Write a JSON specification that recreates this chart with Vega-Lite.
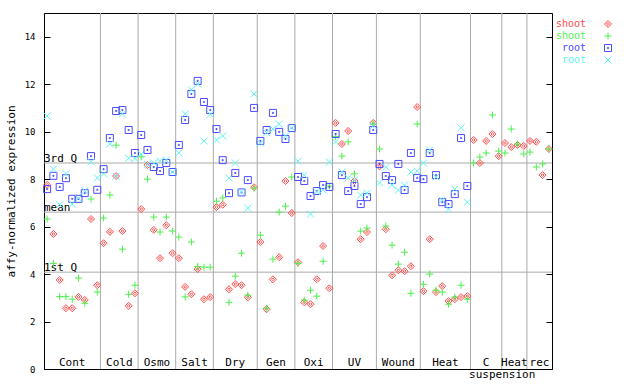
{
"$schema": "https://vega.github.io/schema/vega-lite/v6.json",
"width": 508, "height": 356,
"autosize": {"type": "none"},
"padding": {"left": 44, "top": 13, "right": 88, "bottom": 15},
"background": "white",
"config": {"view": {"stroke": "black", "strokeWidth": 1}, "font": "DejaVu Sans Mono", "axis": {"grid": false, "domainColor": "black", "tickColor": "black"}},
"datasets": {
"expr": [
{"g":"Cont","x":0.5,"shoot_a":7.76,"shoot_b":6.32,"root_a":7.58,"root_b":10.66},
{"g":"Cont","x":1.5,"shoot_a":5.69,"shoot_b":4.45,"root_a":8.14,"root_b":8.42},
{"g":"Cont","x":2.5,"shoot_a":3.75,"shoot_b":3.05,"root_a":7.67,"root_b":6.92},
{"g":"Cont","x":3.5,"shoot_a":2.56,"shoot_b":3.05,"root_a":8.04,"root_b":8.23},
{"g":"Cont","x":4.5,"shoot_a":2.56,"shoot_b":2.94,"root_a":7.17,"root_b":6.95},
{"g":"Cont","x":5.5,"shoot_a":3.04,"shoot_b":3.83,"root_a":7.17,"root_b":7.19},
{"g":"Cont","x":6.5,"shoot_a":2.91,"shoot_b":2.77,"root_a":7.41,"root_b":7.51},
{"g":"Cont","x":7.5,"shoot_a":6.32,"shoot_b":7.16,"root_a":8.97,"root_b":8.73},
{"g":"Cont","x":8.5,"shoot_a":3.53,"shoot_b":3.24,"root_a":7.55,"root_b":8.05},
{"g":"Cold","x":9.5,"shoot_a":5.30,"shoot_b":6.36,"root_a":8.42,"root_b":8.22},
{"g":"Cold","x":10.5,"shoot_a":5.78,"shoot_b":7.33,"root_a":9.73,"root_b":9.48},
{"g":"Cold","x":11.5,"shoot_a":8.13,"shoot_b":9.43,"root_a":10.87,"root_b":8.12},
{"g":"Cold","x":12.5,"shoot_a":5.81,"shoot_b":5.05,"root_a":10.91,"root_b":10.75},
{"g":"Cold","x":13.5,"shoot_a":2.66,"shoot_b":3.15,"root_a":10.07,"root_b":8.88},
{"g":"Cold","x":14.5,"shoot_a":3.19,"shoot_b":3.53,"root_a":9.10,"root_b":8.87},
{"g":"Osmo","x":15.5,"shoot_a":6.74,"shoot_b":8.94,"root_a":9.86,"root_b":9.06},
{"g":"Osmo","x":16.5,"shoot_a":8.59,"shoot_b":8.00,"root_a":9.23,"root_b":8.62},
{"g":"Osmo","x":17.5,"shoot_a":5.86,"shoot_b":6.40,"root_a":8.51,"root_b":8.68},
{"g":"Osmo","x":18.5,"shoot_a":4.67,"shoot_b":5.77,"root_a":8.34,"root_b":8.77},
{"g":"Osmo","x":19.5,"shoot_a":6.06,"shoot_b":6.40,"root_a":8.68,"root_b":8.80},
{"g":"Osmo","x":20.5,"shoot_a":4.88,"shoot_b":5.81,"root_a":8.30,"root_b":8.30},
{"g":"Salt","x":21.5,"shoot_a":4.67,"shoot_b":5.56,"root_a":9.44,"root_b":9.10},
{"g":"Salt","x":22.5,"shoot_a":3.46,"shoot_b":3.04,"root_a":10.49,"root_b":10.75},
{"g":"Salt","x":23.5,"shoot_a":3.15,"shoot_b":5.35,"root_a":11.59,"root_b":11.76},
{"g":"Salt","x":24.5,"shoot_a":4.21,"shoot_b":4.32,"root_a":12.14,"root_b":12.01},
{"g":"Salt","x":25.5,"shoot_a":2.94,"shoot_b":4.29,"root_a":11.25,"root_b":9.61},
{"g":"Salt","x":26.5,"shoot_a":3.03,"shoot_b":4.29,"root_a":10.91,"root_b":10.73},
{"g":"Dry","x":27.5,"shoot_a":6.82,"shoot_b":7.07,"root_a":10.11,"root_b":9.65},
{"g":"Dry","x":28.5,"shoot_a":6.92,"shoot_b":7.21,"root_a":8.80,"root_b":9.82},
{"g":"Dry","x":29.5,"shoot_a":3.36,"shoot_b":2.81,"root_a":7.41,"root_b":8.05},
{"g":"Dry","x":30.5,"shoot_a":3.58,"shoot_b":3.91,"root_a":8.26,"root_b":8.68},
{"g":"Dry","x":31.5,"shoot_a":3.53,"shoot_b":4.88,"root_a":7.44,"root_b":7.46},
{"g":"Dry","x":32.5,"shoot_a":3.02,"shoot_b":3.11,"root_a":7.96,"root_b":6.78},
{"g":"Dry","x":33.5,"shoot_a":7.66,"shoot_b":7.62,"root_a":11.00,"root_b":11.59},
{"g":"Gen","x":34.5,"shoot_a":5.35,"shoot_b":5.64,"root_a":9.61,"root_b":9.52},
{"g":"Gen","x":35.5,"shoot_a":2.52,"shoot_b":2.56,"root_a":10.07,"root_b":9.96},
{"g":"Gen","x":36.5,"shoot_a":3.78,"shoot_b":4.63,"root_a":10.79,"root_b":10.11},
{"g":"Gen","x":37.5,"shoot_a":4.71,"shoot_b":6.61,"root_a":9.99,"root_b":10.32},
{"g":"Gen","x":38.5,"shoot_a":7.92,"shoot_b":6.86,"root_a":9.69,"root_b":9.81},
{"g":"Gen","x":39.5,"shoot_a":6.57,"shoot_b":8.09,"root_a":10.15,"root_b":10.16},
{"g":"Oxi","x":40.5,"shoot_a":4.50,"shoot_b":4.45,"root_a":8.09,"root_b":8.76},
{"g":"Oxi","x":41.5,"shoot_a":2.81,"shoot_b":2.90,"root_a":7.92,"root_b":8.17},
{"g":"Oxi","x":42.5,"shoot_a":2.73,"shoot_b":3.32,"root_a":7.29,"root_b":6.53},
{"g":"Oxi","x":43.5,"shoot_a":3.78,"shoot_b":3.07,"root_a":7.50,"root_b":7.47},
{"g":"Oxi","x":44.5,"shoot_a":5.18,"shoot_b":4.54,"root_a":7.75,"root_b":7.54},
{"g":"Oxi","x":45.5,"shoot_a":3.40,"shoot_b":7.71,"root_a":7.67,"root_b":8.72},
{"g":"UV","x":46.5,"shoot_a":10.37,"shoot_b":9.80,"root_a":9.90,"root_b":9.57},
{"g":"UV","x":47.5,"shoot_a":9.48,"shoot_b":8.97,"root_a":8.17,"root_b":8.30},
{"g":"UV","x":48.5,"shoot_a":10.03,"shoot_b":9.57,"root_a":7.50,"root_b":8.05},
{"g":"UV","x":49.5,"shoot_a":7.92,"shoot_b":8.22,"root_a":7.71,"root_b":7.96},
{"g":"UV","x":50.5,"shoot_a":5.47,"shoot_b":5.81,"root_a":6.95,"root_b":7.33},
{"g":"UV","x":51.5,"shoot_a":5.77,"shoot_b":5.94,"root_a":7.24,"root_b":7.41},
{"g":"UV","x":52.5,"shoot_a":10.37,"shoot_b":10.32,"root_a":10.07,"root_b":10.25},
{"g":"Wound","x":53.5,"shoot_a":8.54,"shoot_b":9.27,"root_a":8.64,"root_b":7.84},
{"g":"Wound","x":54.5,"shoot_a":5.89,"shoot_b":6.02,"root_a":8.13,"root_b":8.51},
{"g":"Wound","x":55.5,"shoot_a":3.95,"shoot_b":5.22,"root_a":7.96,"root_b":7.75},
{"g":"Wound","x":56.5,"shoot_a":4.16,"shoot_b":4.42,"root_a":8.64,"root_b":7.54},
{"g":"Wound","x":57.5,"shoot_a":4.12,"shoot_b":4.92,"root_a":7.54,"root_b":7.75},
{"g":"Wound","x":58.5,"shoot_a":4.33,"shoot_b":3.19,"root_a":9.10,"root_b":8.30},
{"g":"Wound","x":59.5,"shoot_a":11.04,"shoot_b":10.32,"root_a":8.05,"root_b":8.34},
{"g":"Heat","x":60.5,"shoot_a":3.28,"shoot_b":3.57,"root_a":8.00,"root_b":8.68},
{"g":"Heat","x":61.5,"shoot_a":5.47,"shoot_b":4.00,"root_a":9.10,"root_b":9.23},
{"g":"Heat","x":62.5,"shoot_a":3.24,"shoot_b":3.32,"root_a":8.17,"root_b":8.09},
{"g":"Heat","x":63.5,"shoot_a":3.49,"shoot_b":3.24,"root_a":7.03,"root_b":7.12},
{"g":"Heat","x":64.5,"shoot_a":2.86,"shoot_b":2.73,"root_a":6.95,"root_b":6.74},
{"g":"Heat","x":65.5,"shoot_a":2.94,"shoot_b":3.03,"root_a":7.37,"root_b":7.58},
{"g":"Heat","x":66.5,"shoot_a":3.03,"shoot_b":3.53,"root_a":9.73,"root_b":10.16},
{"g":"Heat","x":67.5,"shoot_a":3.07,"shoot_b":2.94,"root_a":7.71,"root_b":7.03},
{"g":"C ","x":68.5,"shoot_a":9.65,"shoot_b":8.68},
{"g":"C ","x":69.5,"shoot_a":8.68,"shoot_b":8.93},
{"g":"C ","x":70.5,"shoot_a":9.61,"shoot_b":9.10},
{"g":"C ","x":71.5,"shoot_a":9.90,"shoot_b":10.70},
{"g":"C ","x":72.5,"shoot_a":8.97,"shoot_b":9.18},
{"g":"Heat ","x":73.5,"shoot_a":9.52,"shoot_b":9.10},
{"g":"Heat ","x":74.5,"shoot_a":9.35,"shoot_b":10.11},
{"g":"Heat ","x":75.5,"shoot_a":9.44,"shoot_b":9.48},
{"g":"Heat ","x":76.5,"shoot_a":9.40,"shoot_b":9.06},
{"g":"rec","x":77.5,"shoot_a":9.61,"shoot_b":9.14},
{"g":"rec","x":78.5,"shoot_a":9.57,"shoot_b":8.51},
{"g":"rec","x":79.5,"shoot_a":8.17,"shoot_b":8.64},
{"g":"rec","x":80.5,"shoot_a":9.27,"shoot_b":9.27}
],
"bounds": [{"b":9},{"b":15},{"b":21},{"b":27},{"b":34},{"b":40},{"b":46},{"b":53},{"b":60},{"b":68},{"b":73},{"b":77}],
"stats": [{"stat":"3rd Q","v":8.68},{"stat":"mean","v":6.61},{"stat":"1st Q","v":4.08}]
},
"layer": [
{"data": {"name": "bounds"}, "mark": {"type": "rule", "color": "#aaaaaa", "strokeWidth": 1},
 "encoding": {"x": {"field": "b", "type": "quantitative", "scale": {"domain": [0, 81], "nice": false, "zero": false}, "axis": null}}},
{"data": {"name": "stats"}, "mark": {"type": "rule", "color": "#aaaaaa", "strokeWidth": 1},
 "encoding": {"y": {"field": "v", "type": "quantitative", "scale": {"domain": [0, 15], "nice": false, "zero": true},
   "axis": {"orient": "left", "title": "affy-normalized expression", "values": [0,2,4,6,8,10,12,14], "tickSize": -6, "labelFont": "DejaVu Sans Mono", "labelFontSize": 9, "labelColor": "black", "labelPadding": 15, "titleFont": "DejaVu Sans Mono", "titleFontSize": 11, "titleFontWeight": "normal", "titleColor": "black", "titlePadding": 8, "grid": false}}}},
{"data": {"name": "stats"}, "mark": {"type": "text", "align": "left", "baseline": "bottom", "fontSize": 11, "font": "DejaVu Sans Mono", "color": "black", "dy": 1},
 "encoding": {"x": {"datum": 0, "type": "quantitative", "axis": null}, "y": {"field": "v", "type": "quantitative", "axis": null}, "text": {"field": "stat"}}},
{"data": {"name": "expr"},
 "transform": [{"fold": ["shoot_a", "shoot_b", "root_a", "root_b"], "as": ["series", "value"]}, {"filter": "isValid(datum.value)"}],
 "mark": {"type": "point", "filled": false, "strokeWidth": 1, "size": 49, "opacity": 1},
 "encoding": {
  "x": {"field": "x", "type": "quantitative", "axis": null},
  "y": {"field": "value", "type": "quantitative", "axis": {"orient": "right", "labels": false, "title": null, "values": [0,2,4,6,8,10,12,14], "tickSize": -6, "grid": false}},
  "color": {"field": "series", "type": "nominal", "scale": {"domain": ["shoot_a", "shoot_b", "root_a", "root_b"], "range": ["#ff4c4c", "#4cf04c", "#4c4cff", "#5ff5f5"]},
    "legend": {"orient": "none", "legendX": 559, "legendY": 6, "title": null, "labelFont": "DejaVu Sans Mono", "labelFontSize": 10, "labelExpr": "split(datum.label, '_')[0]", "symbolOffset": 0, "labelAlign": "right", "labelOffset": -27, "rowPadding": 0, "symbolSize": 49, "symbolStrokeWidth": 1,
      "labelColor": {"expr": "scale('color', datum.value)"}}},
  "shape": {"field": "series", "type": "nominal", "scale": {"domain": ["shoot_a", "shoot_b", "root_a", "root_b"], "range": ["M0,-1L1,0L0,1L-1,0Z M0,-0.4L0.4,0L0,0.4L-0.4,0Z", "M-1,0H1M0,-1V1", "M-1,-1H1V1H-1Z M-0.15,-0.15H0.15V0.15H-0.15Z", "M-1,-1L1,1M1,-1L-1,1"]},
    "legend": {"orient": "none", "legendX": 559, "legendY": 6, "title": null, "labelFont": "DejaVu Sans Mono", "labelFontSize": 10, "labelExpr": "split(datum.label, '_')[0]", "symbolOffset": 0, "labelAlign": "right", "labelOffset": -27, "rowPadding": 0, "symbolSize": 49, "symbolStrokeWidth": 1,
      "labelColor": {"expr": "scale('color', datum.value)"}}}
 }},
{"data": {"name": "expr"}, "mark": {"type": "text", "baseline": "bottom", "fontSize": 11, "font": "DejaVu Sans Mono", "color": "black", "dy": -1},
 "encoding": {"x": {"aggregate": "mean", "field": "x", "type": "quantitative", "axis": null}, "y": {"datum": 0, "type": "quantitative", "axis": null}, "text": {"field": "g", "type": "nominal"}}},
{"data": {"values": [{"label": "suspension", "x": 70.5}]}, "mark": {"type": "text", "baseline": "bottom", "fontSize": 11, "font": "DejaVu Sans Mono", "color": "black", "dx": 16, "dy": 11},
 "encoding": {"x": {"field": "x", "type": "quantitative", "axis": null}, "y": {"datum": 0, "type": "quantitative", "axis": null}, "text": {"field": "label"}}}
],
"resolve": {"axis": {"y": "independent"}}
}
